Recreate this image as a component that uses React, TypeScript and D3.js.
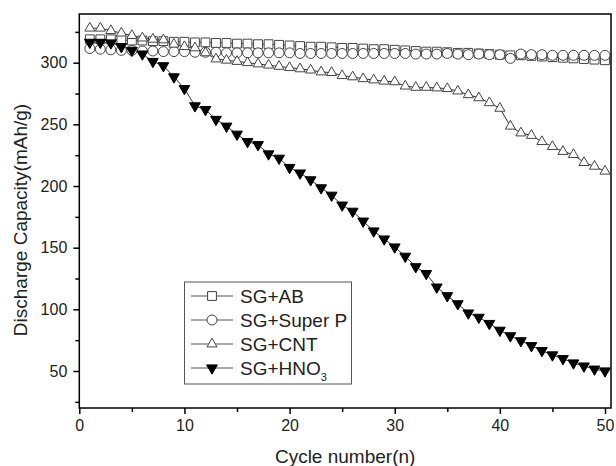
import { useEffect, useRef } from "react"
import * as d3 from "d3"

// cycles 1..50
const cycles = d3.range(1, 51)

const sgAB = [
  319, 319, 319, 318.5, 318, 318, 317.5, 317.5, 317, 317,
  316.5, 316.5, 316, 316, 315.5, 315.5, 315, 315, 314.5, 314,
  313.5, 313, 313, 312.5, 312, 312, 311.5, 311, 311, 310.5,
  310, 309.5, 309, 309, 308.5, 308, 308, 307.5, 307, 306.5,
  306, 306, 305.5, 305, 304.5, 304, 303.5, 303, 302.5, 302,
]

const sgSuperP = [
  311.5, 311, 310.5, 310, 310, 309.5, 309.5, 309, 309, 309,
  308.5, 308.5, 308.5, 308, 308, 308, 308, 308, 308, 308,
  307.5, 307.5, 307.5, 307.5, 307.5, 307.5, 307.5, 307.5, 307.5, 307.5,
  307.5, 307, 307, 307, 307.5, 307, 306.5, 307, 306.5, 306.5,
  303.5, 307, 306.5, 306.5, 306, 306, 306, 306, 306, 306,
]

const sgCNT = [
  328, 328, 326, 324, 322, 320, 319, 318.5, 315, 313,
  312, 308, 303, 302, 301, 300, 299, 298, 297, 296,
  295, 294, 292.5, 292, 289.5, 288.5, 287, 286, 285, 284.5,
  281, 280, 280, 279.5, 279, 277, 274, 271.5, 267.5, 263,
  248.5, 243, 241, 236, 232, 228, 225.5, 219, 216, 212,
]

const sgHNO3 = [
  316.5, 316.5, 316, 313, 310, 307, 301, 297.5, 288.5, 279,
  265, 262, 254, 248.5, 242, 236, 233.5, 226, 222.5, 215,
  210.5, 205, 198.5, 192.5, 184.5, 179.5, 171.5, 163.5, 157, 150.5,
  143, 134.5, 129, 118, 111, 104.5, 97, 93.5, 88.5, 83,
  78.5, 74.5, 70.5, 66.5, 63, 60, 56.5, 54, 51.5, 50,
]

const seriesNames = ["SG+AB", "SG+Super P", "SG+CNT", "SG+HNO"]
const seriesValues = [sgAB, sgSuperP, sgCNT, sgHNO3]

const xTicks = [0, 10, 20, 30, 40, 50]
const xMinorTicks = [5, 15, 25, 35, 45]
const yTicks = [50, 100, 150, 200, 250, 300]
const yMinorTicks = [25, 75, 125, 175, 225, 275, 325]

const font = "Arial, 'Liberation Sans', sans-serif"

const App = () => {
  const svgRef = useRef<SVGSVGElement>(null)

  useEffect(() => {
    const svg = d3.select(svgRef.current)
    svg.selectAll("*").remove()

    const left = 79.3
    const right = 611
    const top = 14
    const bottom = 408

    const x = d3.scaleLinear().domain([0, 50.57]).range([left, right])
    const y = d3.scaleLinear().domain([20, 339.5]).range([bottom, top])

    svg.append("rect").attr("width", 616).attr("height", 466).attr("fill", "white")

    // symbols
    const symbols = [
      d3.symbol().type(d3.symbolSquare).size(78),
      d3.symbol().type(d3.symbolCircle).size(78),
      d3.symbol().type(d3.symbolTriangle).size(44),
      d3.symbol().type(d3.symbolTriangle).size(50),
    ]
    const fills = ["white", "white", "white", "black"]
    const rotate = [0, 0, 0, 180]

    const line = d3
      .line<number>()
      .x((d, i) => x(cycles[i]))
      .y((d) => y(d))

    seriesValues.forEach((vals, s) => {
      svg
        .append("path")
        .attr("d", line(vals))
        .attr("fill", "none")
        .attr("stroke", "#333")
        .attr("stroke-width", 1)
    })

    seriesValues.forEach((vals, s) => {
      svg
        .append("g")
        .selectAll("path")
        .data(vals)
        .enter()
        .append("path")
        .attr("d", symbols[s]() as string)
        .attr("transform", (d, i) => `translate(${x(cycles[i])},${y(d)}) rotate(${rotate[s]})`)
        .attr("fill", fills[s])
        .attr("stroke", s === 3 ? "black" : "#444")
        .attr("stroke-width", 1)
    })

    // frame
    svg
      .append("rect")
      .attr("x", left)
      .attr("y", top)
      .attr("width", right - left)
      .attr("height", bottom - top)
      .attr("fill", "none")
      .attr("stroke", "black")
      .attr("stroke-width", 1.5)

    // x axis
    const xAxis = svg
      .append("g")
      .attr("transform", `translate(0,${bottom})`)
      .call(d3.axisBottom(x).tickValues(xTicks).tickSize(6).tickPadding(6))
    xAxis.select(".domain").remove()
    xAxis.selectAll("line").attr("stroke-width", 1.5)
    xAxis.selectAll("text").style("font-size", "16px").style("font-family", font).attr("fill", "#222")

    const xMinor = svg
      .append("g")
      .attr("transform", `translate(0,${bottom})`)
      .call(d3.axisBottom(x).tickValues(xMinorTicks).tickSize(4).tickFormat(() => ""))
    xMinor.select(".domain").remove()
    xMinor.selectAll("line").attr("stroke-width", 1.5)

    // y axis
    const yAxis = svg
      .append("g")
      .attr("transform", `translate(${left},0)`)
      .call(d3.axisLeft(y).tickValues(yTicks).tickSize(6).tickPadding(6))
    yAxis.select(".domain").remove()
    yAxis.selectAll("line").attr("stroke-width", 1.5)
    yAxis.selectAll("text").style("font-size", "16px").style("font-family", font).attr("fill", "#222")

    const yMinor = svg
      .append("g")
      .attr("transform", `translate(${left},0)`)
      .call(d3.axisLeft(y).tickValues(yMinorTicks).tickSize(4).tickFormat(() => ""))
    yMinor.select(".domain").remove()
    yMinor.selectAll("line").attr("stroke-width", 1.5)

    // axis titles
    svg
      .append("text")
      .attr("x", (left + right) / 2)
      .attr("y", 463)
      .attr("text-anchor", "middle")
      .style("font-size", "19px")
      .style("font-family", font)
      .attr("fill", "#222")
      .text("Cycle number(n)")

    svg
      .append("text")
      .attr("transform", `translate(27,220) rotate(-90)`)
      .attr("text-anchor", "middle")
      .style("font-size", "19px")
      .style("font-family", font)
      .attr("fill", "#222")
      .text("Discharge Capacity(mAh/g)")

    // legend
    const lg = svg.append("g")
    lg.append("rect")
      .attr("x", 184.5)
      .attr("y", 282)
      .attr("width", 167)
      .attr("height", 102)
      .attr("fill", "white")
      .attr("stroke", "#555")
      .attr("stroke-width", 1)

    seriesNames.forEach((name, s) => {
      const ry = 296 + s * 24
      lg.append("line")
        .attr("x1", 191)
        .attr("x2", 233)
        .attr("y1", ry)
        .attr("y2", ry)
        .attr("stroke", "#555")
        .attr("stroke-width", 1)
      lg.append("path")
        .attr("d", symbols[s]() as string)
        .attr("transform", `translate(212,${ry}) rotate(${rotate[s]})`)
        .attr("fill", fills[s])
        .attr("stroke", s === 3 ? "black" : "#444")
      const t = lg
        .append("text")
        .attr("x", 240)
        .attr("y", ry + 7)
        .style("font-size", "19px")
        .style("font-family", font)
        .attr("fill", "#222")
        .text(name)
      if (s === 3) {
        t.append("tspan").attr("dy", 6).style("font-size", "11px").text("3")
      }
    })
  }, [])

  return (
    <svg
      ref={svgRef}
      width={616}
      height={466}
      style={{ position: "absolute", left: 0, top: 0, display: "block" }}
    ></svg>
  )
}

export default App
